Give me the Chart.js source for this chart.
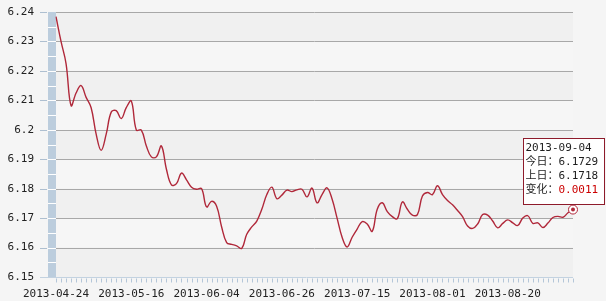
<!DOCTYPE html>
<html>
<head>
<meta charset="utf-8">
<script src="https://cdn.jsdelivr.net/npm/chart.js@4"></script>
<style>
  body { margin: 0; background: #f5f5f5; }
  #wrap { width: 606px; height: 301px; position: relative; }
</style>
</head>
<body>
<div id="wrap"><canvas id="rateChart"></canvas></div>
<script>
// tick labels on the x axis, one every 15 points
const tickLabels = ["2013-04-24", "2013-05-16", "2013-06-04", "2013-06-26", "2013-07-15", "2013-08-01", "2013-08-20"];
const labelEvery = 15;

// daily rate
const rates = [
  6.2384, 6.2300, 6.2225, 6.2082, 6.2125, 6.2150, 6.2110, 6.2075, 6.1985, 6.1930,
  6.1985, 6.2060, 6.2065, 6.2038, 6.2075, 6.2098, 6.1999, 6.1999, 6.1945, 6.1908,
  6.1908, 6.1945, 6.1866, 6.1813, 6.1817, 6.1853, 6.1830, 6.1805, 6.1798, 6.1800,
  6.1738, 6.1757, 6.1740, 6.1670, 6.1617, 6.1611, 6.1606, 6.1597, 6.1645, 6.1670,
  6.1690, 6.1730, 6.1780, 6.1805, 6.1766, 6.1778, 6.1795, 6.1790, 6.1796, 6.1798,
  6.1772, 6.1802, 6.1752, 6.1780, 6.1803, 6.1765, 6.1700, 6.1635, 6.1602, 6.1635,
  6.1663, 6.1688, 6.1680, 6.1655, 6.1730, 6.1752, 6.1722, 6.1705, 6.1698, 6.1755,
  6.1730, 6.1710, 6.1712, 6.1775, 6.1787, 6.1780, 6.1810, 6.1780, 6.1760, 6.1745,
  6.1726, 6.1705, 6.1673, 6.1665, 6.1680, 6.1712, 6.1710, 6.1690, 6.1667, 6.1682,
  6.1694, 6.1684, 6.1675, 6.1700, 6.1708, 6.1682, 6.1684, 6.1668, 6.1683, 6.1702,
  6.1706, 6.1703, 6.1718, 6.1729
];

// info box for the last day
const lastDate = "2013-09-04";
const todayRate = "6.1729";
const prevRate = "6.1718";
const rateChange = "0.0011";

const yMin = 6.15;
const yMax = 6.24;
const yStep = 0.01;

const monoFont = '"DejaVu Sans Mono", "Noto Sans CJK SC", monospace';
const lineColor = "#b0283a";

//bands, grid lines, blue stripe and small ticks
const backdrop = {
  id: "backdrop",
  beforeDatasetsDraw(chart) {
    const { ctx, chartArea: a, scales: { x, y } } = chart;
    const nSteps = Math.round((yMax - yMin) / yStep);
    ctx.save();
    for (let k = 0; k < nSteps; k++) {
      const t = y.getPixelForValue(yMax - k * yStep);
      const b = y.getPixelForValue(yMax - (k + 1) * yStep);
      ctx.fillStyle = k % 2 === 0 ? "#f0f0f0" : "#f6f6f6";
      ctx.fillRect(a.left, t, a.right - a.left, b - t);
    }
    ctx.lineWidth = 1;
    for (let k = 0; k <= nSteps; k++) {
      const py = Math.round(y.getPixelForValue(yMax - k * yStep)) + 0.5;
      if (k < nSteps) {
        ctx.strokeStyle = "#a8a8a8";
        ctx.beginPath();
        ctx.moveTo(a.left, py);
        ctx.lineTo(a.right, py);
        ctx.stroke();
      }
      ctx.strokeStyle = "#aebfd0";
      ctx.beginPath();
      ctx.moveTo(40, py);
      ctx.lineTo(47, py);
      ctx.stroke();
    }
    // stripe
    ctx.fillStyle = "#bccddd";
    ctx.fillRect(48, a.top, 8, a.bottom - a.top);
    ctx.strokeStyle = "#ffffff";
    for (let k = 1; k < nSteps * 2; k++) {
      const py = Math.round(y.getPixelForValue(yMax - k * yStep / 2)) + 0.5;
      ctx.beginPath();
      ctx.moveTo(48, py);
      ctx.lineTo(56, py);
      ctx.stroke();
    }
    // x axis line and ticks
    const by = Math.round(a.bottom) + 0.5;
    ctx.strokeStyle = "#c3d2e0";
    ctx.beginPath();
    ctx.moveTo(40, by);
    ctx.lineTo(a.right, by);
    ctx.stroke();
    ctx.strokeStyle = "#b4c6d8";
    rates.forEach((_, i) => {
      const px = Math.round(x.getPixelForValue(i)) + 0.5;
      ctx.beginPath();
      ctx.moveTo(px, by + 1);
      ctx.lineTo(px, by + 5);
      ctx.stroke();
    });
    ctx.restore();
  }
};

//marker on last point and the info box
const lastInfo = {
  id: "lastInfo",
  afterDatasetsDraw(chart) {
    const { ctx } = chart;
    const meta = chart.getDatasetMeta(0);
    const p = meta.data[meta.data.length - 1];
    ctx.save();
    ctx.lineWidth = 1;
    ctx.strokeStyle = lineColor;
    ctx.fillStyle = "#ffffff";
    ctx.beginPath();
    ctx.arc(p.x, p.y, 4.5, 0, Math.PI * 2);
    ctx.fill();
    ctx.stroke();
    ctx.fillStyle = lineColor;
    ctx.beginPath();
    ctx.arc(p.x, p.y, 2, 0, Math.PI * 2);
    ctx.fill();

    const bx = Math.round(p.x) - 50 + 0.5;
    const by = Math.round(p.y) - 72 + 0.5;
    ctx.fillStyle = "#ffffff";
    ctx.fillRect(bx, by, 81, 66);
    ctx.strokeStyle = "#8e1b2b";
    ctx.strokeRect(bx, by, 81, 66);

    ctx.font = "11px " + monoFont;
    ctx.textBaseline = "middle";
    ctx.textAlign = "left";
    const tx = bx + 2;
    ctx.fillStyle = "#1e1e1e";
    ctx.fillText(lastDate, tx, by + 10);
    ctx.fillText("今日：" + todayRate, tx, by + 24);
    ctx.fillText("上日：" + prevRate, tx, by + 38);
    const head = "变化：";
    ctx.fillText(head, tx, by + 52);
    ctx.fillStyle = "#cc0000";
    ctx.fillText(rateChange, tx + ctx.measureText(head).width, by + 52);
    ctx.restore();
  }
};

const ctx = document.getElementById("rateChart");

new Chart(ctx, {
  type: "line",
  data: {
    labels: rates.map((_, i) => i),
    datasets: [{
      data: rates,
      borderColor: lineColor,
      borderWidth: 1.4,
      pointRadius: 0,
      tension: 0.4,
      fill: false
    }]
  },
  options: {
    responsive: true,
    maintainAspectRatio: false,
    animation: false,
    layout: { padding: { top: 12, right: 33, bottom: 0, left: 0 } },
    plugins: {
      legend: { display: false },
      tooltip: { enabled: false }
    },
    scales: {
      x: {
        type: "category",
        offset: false,
        grid: { display: false, drawTicks: false },
        border: { display: false },
        afterFit: (s) => {
          s.height = 24;
          s.paddingLeft = 0;
          s.paddingRight = 0;
        },
        ticks: {
          autoSkip: false,
          maxRotation: 0,
          padding: 11,
          color: "#222",
          font: { family: monoFont, size: 11 },
          callback: (val, i) => (i % labelEvery === 0 ? tickLabels[i / labelEvery] || "" : "")
        }
      },
      y: {
        min: yMin,
        max: yMax,
        grid: { display: false, drawTicks: false },
        border: { display: false },
        afterFit: (s) => {
          s.width = 56;
          s.paddingTop = 0;
          s.paddingBottom = 0;
        },
        ticks: {
          stepSize: yStep,
          padding: 22,
          color: "#222",
          font: { family: monoFont, size: 11 },
          callback: (v) => String(parseFloat(Number(v).toFixed(2)))
        }
      }
    }
  },
  plugins: [backdrop, lastInfo]
});
</script>
</body>
</html>
